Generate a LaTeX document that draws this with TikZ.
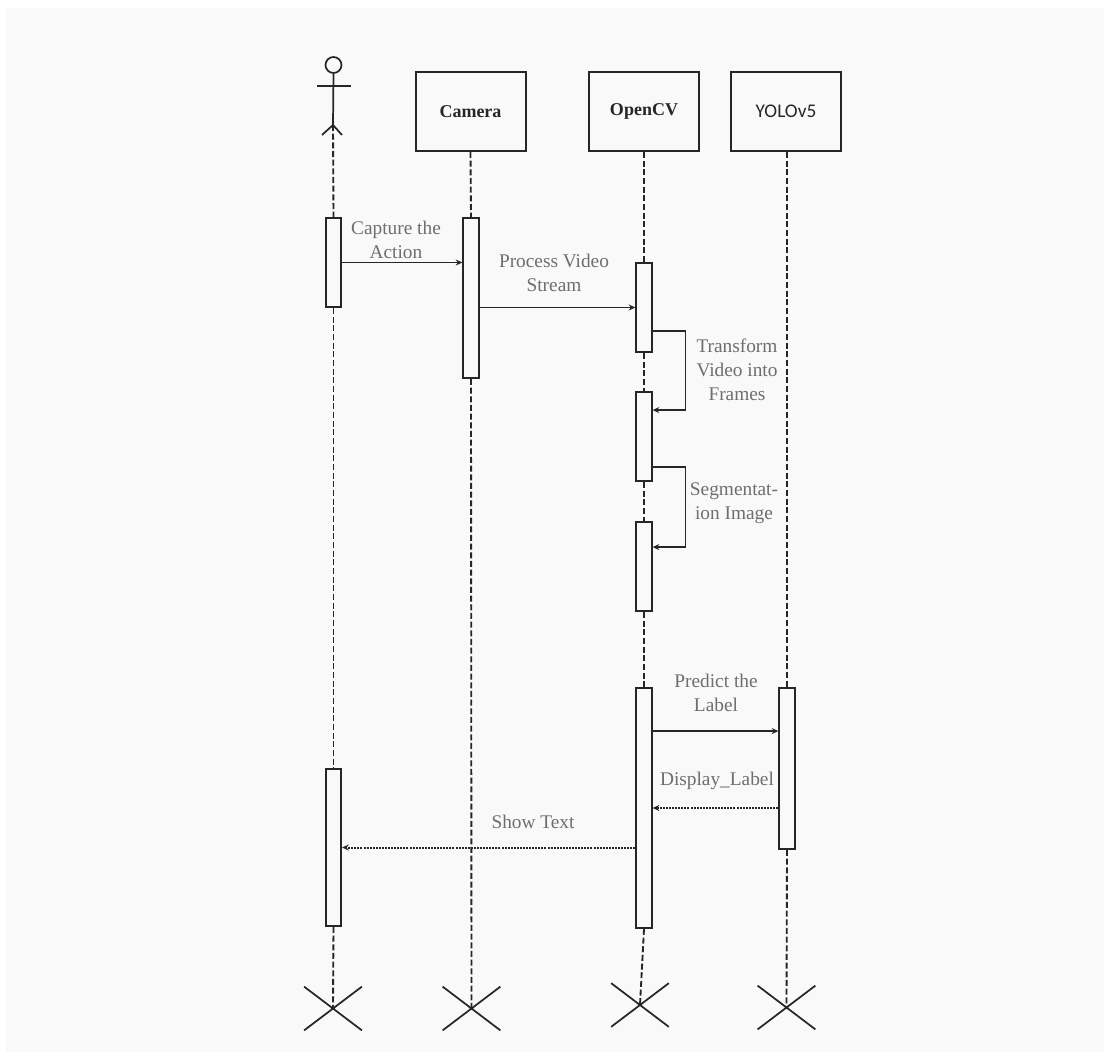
\documentclass[tikz,border=0pt]{standalone}
\usepackage{fontspec}
\setmainfont{Liberation Serif}
\newfontfamily\yolofont{Carlito}
\usetikzlibrary{arrows.meta,positioning,shapes.misc}
\definecolor{panelgray}{HTML}{F9F9F9}
\definecolor{labelgray}{HTML}{6E6E6E}
\definecolor{linegray}{HTML}{262626}

\begin{document}
\begin{tikzpicture}[
  x=0.75pt, y=-0.75pt,
  every node/.style={inner sep=0pt},
  objbox/.style={draw=linegray, line width=1.5pt, minimum width=82.5pt, minimum height=59.25pt, font=\fontsize{13.5}{16}\selectfont\bfseries, text=linegray},
  actbar/.style={draw=linegray, line width=1.4pt, fill=panelgray, minimum width=11.5pt},
  msglabel/.style={align=center, text=labelgray, font=\fontsize{14.5}{18}\selectfont},
  life/.style={draw=linegray, line width=1.4pt, dash pattern=on 4.5pt off 2pt},
  msg/.style={-{Stealth[length=5pt,width=4.5pt]}, draw=linegray, line width=1.1pt},
  ret/.style={-{Stealth[length=5pt,width=4.5pt]}, draw=linegray, line width=1.5pt, dash pattern=on 1.5pt off 0.8pt},
  endx/.style={cross out, draw=linegray, line width=1.3pt, minimum width=42pt, minimum height=31.5pt}
]
% page and panel
\path[use as bounding box] (0,0) rectangle (1108,1053);
\fill[white] (0,0) rectangle (1108,1053);
\fill[panelgray] (6,8) rectangle (1104,1052);

% objects
\node[objbox] (cam) at (470.5,111.5) {Camera};
\node[objbox] (ocv) at (644,111.5) {OpenCV};
\node[objbox, font=\fontsize{14.5}{16}\selectfont\yolofont] (yolo) at (786,111.5) {YOLOv5};

% actor
\node[circle, draw=linegray, line width=1.3pt, minimum size=12pt] (head) at (333.5,65) {};
\coordinate (hip) at (333,125);
\draw[linegray, line width=1.3pt] (head.south) -- (hip);
\draw[linegray, line width=1.3pt] (317,86) -- (351,86);
\draw[linegray, line width=1.3pt] (322,135) -- (hip) -- (342,135);

% activation bars
\node[actbar, minimum height=66.75pt] (act1) at (333.5,262.5) {};
\node[actbar, minimum height=117.75pt] (act2) at (333.5,847.5) {};
\node[actbar, minimum height=120pt] (cam1) at (471,298) {};
\node[actbar, minimum height=66.75pt] (ocv1) at (644,307.5) {};
\node[actbar, minimum height=66.75pt] (ocv2) at (644,436.5) {};
\node[actbar, minimum height=66.75pt] (ocv3) at (644,566.5) {};
\node[actbar, minimum height=180pt] (ocv4) at (644,808) {};
\node[actbar, minimum height=120.75pt] (yolo1) at (787,768.5) {};

% destroy marks
\node[endx] (xact) at (333,1008.5) {};
\node[endx] (xcam) at (471.5,1008.5) {};
\node[endx] (xocv) at (640,1005) {};
\node[endx] (xyolo) at (786.5,1007.5) {};

% lifelines
\draw[life] (hip) -- (act1.north);
\draw[life] (act1.south) -- (act2.north);
\draw[life] (act2.south) -- (xact.center);
\draw[life] (cam.south) -- (cam1.north);
\draw[life] (cam1.south) -- (xcam.center);
\draw[life] (ocv.south) -- (ocv1.north);
\draw[life] (ocv1.south) -- (ocv2.north);
\draw[life] (ocv2.south) -- (ocv3.north);
\draw[life] (ocv3.south) -- (ocv4.north);
\draw[life] (ocv4.south) -- (xocv.center);
\draw[life] (yolo.south -| yolo1.north) -- (yolo1.north);
\draw[life] (yolo1.south) -- (xyolo.center);

% messages
\draw[msg] (act1.east) -- (cam1.west |- act1.east);
\draw[msg] (cam1.east |- ocv1.west) -- (ocv1.west);
\draw[msg] ([yshift=16.5pt]ocv1.south east) -- ++(33,0) |- ([yshift=-14.25pt]ocv2.north east);
\draw[msg] ([yshift=11.25pt]ocv2.south east) -- ++(33,0) |- ([yshift=-19.5pt]ocv3.north east);
\draw[msg] ([yshift=-33pt]ocv4.north east) -- ([yshift=-33pt]ocv4.north east -| yolo1.west);
\draw[ret] (yolo1.west |- ocv4.east) -- (ocv4.east);
\draw[ret] (ocv4.west |- act2.east) -- (act2.east);

% labels
\node[msglabel] (l1) at (396,240) {Capture the\\Action};
\node[msglabel] (l2) at (554,273) {Process Video\\Stream};
\node[msglabel] (l3) at (737,370) {Transform\\Video into\\Frames};
\node[msglabel] (l4) at (734,503) {Segmentat-\\ion Image};
\node[msglabel] (l5) at (716,693) {Predict the\\Label};
\node[msglabel] (l6) at (717,781) {Display\_Label};
\node[msglabel] (l7) at (533,822) {Show Text};
\end{tikzpicture}
\end{document}
